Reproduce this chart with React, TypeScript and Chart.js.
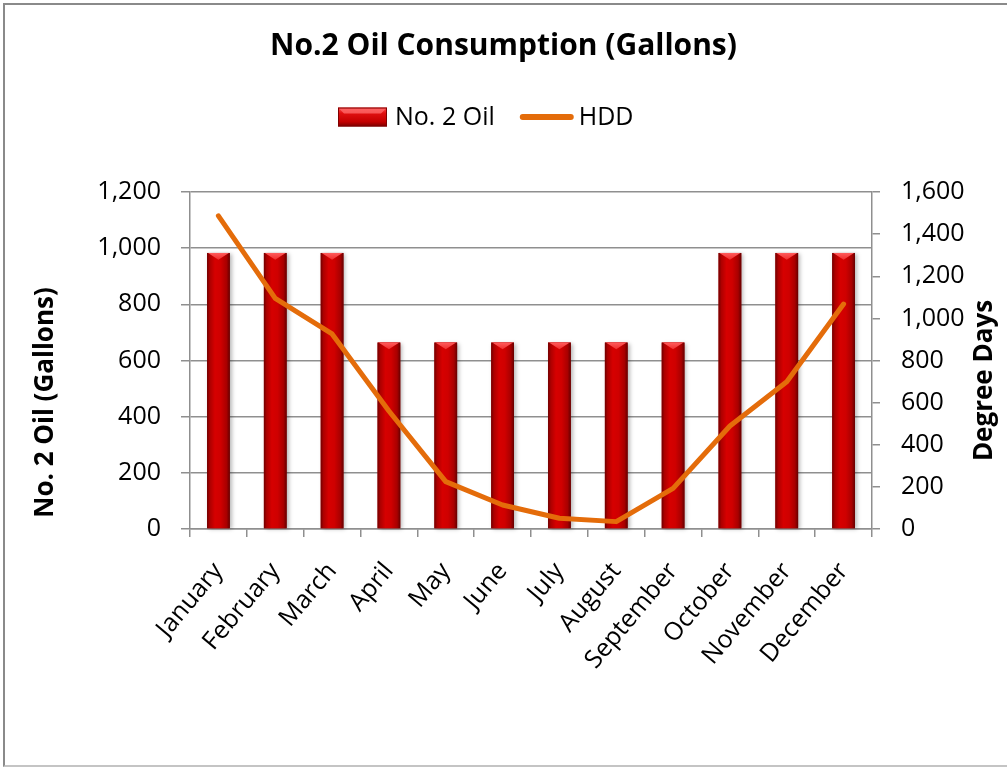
import React, { useEffect, useRef } from 'react';
import { Chart, registerables } from 'chart.js';

Chart.register(...registerables);

// Monthly categories
const months = [
  'January', 'February', 'March', 'April', 'May', 'June',
  'July', 'August', 'September', 'October', 'November', 'December',
];

// No. 2 oil delivered per month (gallons)
const oilGallons = [983, 983, 983, 664, 664, 664, 664, 664, 664, 983, 983, 983];

// Heating degree days per month
const heatingDegreeDays = [1487, 1095, 926, 560, 225, 114, 51, 35, 193, 489, 699, 1068];

// Axis ranges
const gallonAxis = { min: 0, max: 1200, step: 200 };
const degreeDayAxis = { min: 0, max: 1600, step: 200 };

const chartTitle = 'No.2 Oil Consumption (Gallons)';
const leftAxisTitle = 'No. 2 Oil (Gallons)';
const rightAxisTitle = 'Degree Days';
const seriesNames = ['No. 2 Oil', 'HDD'];

const FONT = '"Open Sans", sans-serif';
const GRID = '#8f8f8f';
const LINE_COLOR = '#E46C0A';

// Cylinder-like shading across a bar of the given width
function barGradient(ctx: CanvasRenderingContext2D, left: number, width: number) {
  const g = ctx.createLinearGradient(left, 0, left + width, 0);
  g.addColorStop(0, '#700000');
  g.addColorStop(0.12, '#ac0000');
  g.addColorStop(0.35, '#d60000');
  g.addColorStop(0.6, '#cf0000');
  g.addColorStop(0.86, '#a80000');
  g.addColorStop(1, '#660000');
  return g;
}

function drawBevelTop(ctx: CanvasRenderingContext2D, left: number, top: number, width: number) {
  const depth = Math.min(7, width * 0.3);
  ctx.beginPath();
  ctx.moveTo(left + 1, top);
  ctx.lineTo(left + width - 1, top);
  ctx.lineTo(left + width / 2, top + depth);
  ctx.closePath();
  const g = ctx.createLinearGradient(0, top, 0, top + depth);
  g.addColorStop(0, '#ff5c5c');
  g.addColorStop(1, '#ee2c2c');
  ctx.fillStyle = g;
  ctx.fill();
}

// Shades each bar of the oil dataset after the library has drawn it
const barShading = {
  id: 'barShading',
  afterDatasetDraw(chart: any, args: any) {
    if (args.index !== 0) return;
    const ctx: CanvasRenderingContext2D = chart.ctx;
    const meta = chart.getDatasetMeta(0);
    ctx.save();
    meta.data.forEach((bar: any) => {
      const { x, y, base, width } = bar.getProps(['x', 'y', 'base', 'width'], true);
      const left = x - width / 2;
      const h = base - y;
      ctx.save();
      ctx.shadowColor = 'rgba(0,0,0,0.28)';
      ctx.shadowBlur = 4;
      ctx.shadowOffsetX = 2;
      ctx.shadowOffsetY = 1;
      ctx.fillStyle = barGradient(ctx, left, width);
      ctx.fillRect(left, y, width, h);
      ctx.restore();
      drawBevelTop(ctx, left, y, width);
    });
    ctx.restore();
  },
};

// Rotated axis titles beside the value axes, plus the series key under the title
const annotations = {
  id: 'annotations',
  afterDraw(chart: any) {
    const { ctx, chartArea } = chart;
    const midY = (chartArea.top + chartArea.bottom) / 2;
    ctx.save();
    ctx.font = `bold 26px ${FONT}`;
    ctx.fillStyle = '#000';
    ctx.textAlign = 'center';
    ctx.textBaseline = 'middle';
    ctx.save();
    ctx.translate(chartArea.left - 144, midY + 42);
    ctx.rotate(-Math.PI / 2);
    ctx.fillText(leftAxisTitle, 0, 0);
    ctx.restore();
    ctx.save();
    ctx.translate(chartArea.right + 113, midY + 20);
    ctx.rotate(-Math.PI / 2);
    ctx.fillText(rightAxisTitle, 0, 0);
    ctx.restore();

    // Key
    const keyY = chartArea.top - 75;
    let kx = chartArea.left + 148;
    ctx.font = `25px ${FONT}`;
    ctx.textAlign = 'left';
    ctx.textBaseline = 'middle';

    // bar swatch
    const bw = 49;
    const bh = 19;
    const by = keyY - bh / 2;
    const v = ctx.createLinearGradient(0, by, 0, by + bh);
    v.addColorStop(0, '#ff4a4a');
    v.addColorStop(0.3, '#e01010');
    v.addColorStop(0.75, '#c40000');
    v.addColorStop(1, '#7a0000');
    ctx.fillStyle = v;
    ctx.fillRect(kx, by, bw, bh);
    ctx.beginPath();
    ctx.moveTo(kx + 1, by + 1);
    ctx.lineTo(kx + bw - 1, by + 1);
    ctx.lineTo(kx + bw - 6, by + 6);
    ctx.lineTo(kx + 6, by + 6);
    ctx.closePath();
    ctx.fillStyle = 'rgba(255,110,110,0.75)';
    ctx.fill();
    ctx.strokeStyle = '#800000';
    ctx.lineWidth = 1;
    ctx.strokeRect(kx + 0.5, by + 0.5, bw - 1, bh - 1);
    kx += bw + 8;
    ctx.fillStyle = '#000';
    ctx.fillText(seriesNames[0], kx, keyY + 1);
    kx += ctx.measureText(seriesNames[0]).width + 25;

    // line swatch
    ctx.strokeStyle = LINE_COLOR;
    ctx.lineWidth = 6;
    ctx.lineCap = 'round';
    ctx.beginPath();
    ctx.moveTo(kx + 3, keyY);
    ctx.lineTo(kx + 51, keyY);
    ctx.stroke();
    kx += 59;
    ctx.fillText(seriesNames[1], kx, keyY + 1);
    ctx.restore();
  },
};

export default function App() {
  const canvasRef = useRef<HTMLCanvasElement | null>(null);

  useEffect(() => {
    const canvas = canvasRef.current;
    if (!canvas) return;
    const tickFont = { family: FONT, size: 25 };

    const chart = new Chart(canvas, {
      type: 'bar',
      data: {
        labels: months,
        datasets: [
          {
            type: 'bar',
            label: seriesNames[0],
            data: oilGallons,
            backgroundColor: '#c00000',
            borderWidth: 0,
            barPercentage: 0.4,
            categoryPercentage: 1.0,
            yAxisID: 'y',
            order: 1,
          },
          {
            type: 'line',
            label: seriesNames[1],
            data: heatingDegreeDays,
            borderColor: LINE_COLOR,
            backgroundColor: LINE_COLOR,
            borderWidth: 5,
            pointRadius: 0,
            tension: 0,
            borderCapStyle: 'round',
            borderJoinStyle: 'round',
            yAxisID: 'y1',
            order: 0,
          },
        ],
      } as any,
      options: {
        animation: false,
        responsive: false,
        maintainAspectRatio: false,
        layout: { padding: 0 },
        plugins: {
          title: {
            display: true,
            text: chartTitle,
            color: '#000',
            font: { family: FONT, size: 30, weight: 'bold', lineHeight: 1.2 },
            padding: { top: 28, bottom: 128 },
          },
          legend: { display: false },
          tooltip: { enabled: false },
        },
        scales: {
          x: {
            offset: true,
            grid: {
              offset: true,
              drawOnChartArea: false,
              drawTicks: true,
              tickLength: 8,
              color: GRID,
              lineWidth: 1.5,
            },
            border: { color: GRID, width: 1.5 },
            ticks: {
              font: tickFont,
              color: '#000',
              maxRotation: 50,
              minRotation: 50,
              autoSkip: false,
              padding: 20,
            },
            afterFit: (s: any) => {
              s.height = 767 - 529;
            },
          },
          y: {
            position: 'left',
            min: gallonAxis.min,
            max: gallonAxis.max,
            ticks: { stepSize: gallonAxis.step, font: tickFont, color: '#000', padding: 20 },
            grid: { color: GRID, lineWidth: 1.5, tickLength: 9 },
            border: { color: GRID, width: 1.5 },
            afterFit: (s: any) => {
              s.width = 190;
            },
          },
          y1: {
            position: 'right',
            min: degreeDayAxis.min,
            max: degreeDayAxis.max,
            ticks: { stepSize: degreeDayAxis.step, font: tickFont, color: '#000', padding: 21 },
            grid: { drawOnChartArea: false, color: GRID, lineWidth: 1.5, tickLength: 8 },
            border: { color: GRID, width: 1.5 },
            afterFit: (s: any) => {
              s.width = 1007 - 872;
            },
          },
        },
      } as any,
      plugins: [barShading, annotations],
    });

    return () => chart.destroy();
  }, []);

  return (
    <div
      style={{
        position: 'fixed',
        left: 0,
        top: 0,
        width: 1007,
        height: 767,
        background: '#fff',
        overflow: 'hidden',
      }}
    >
      <canvas ref={canvasRef} width={1007} height={767} style={{ display: 'block' }} />
      <div
        style={{
          position: 'absolute',
          left: 3,
          top: 3,
          width: 1020,
          height: 760,
          borderLeft: '2px solid #8a8a8a',
          borderTop: '2px solid #8a8a8a',
          borderBottom: '2px solid #c4c4c4',
          pointerEvents: 'none',
        }}
      />
    </div>
  );
}
